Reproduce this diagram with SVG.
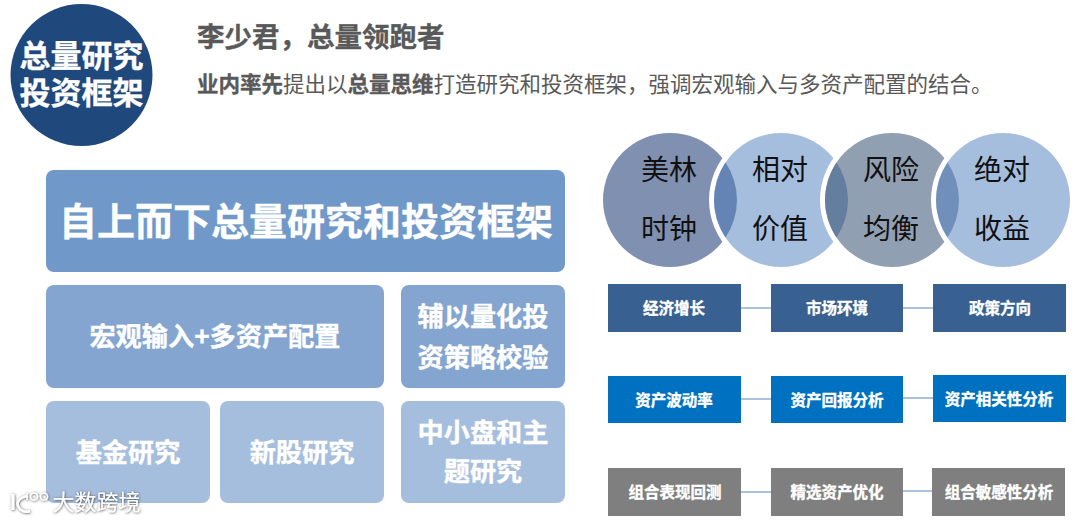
<svg xmlns="http://www.w3.org/2000/svg" width="1080" height="522" viewBox="0 0 1080 522">
<style>
text{font-family:"Noto Sans CJK SC","Noto Sans",sans-serif;text-anchor:middle}
.w{fill:#fff;font-weight:700;stroke:#fff;stroke-width:.35}
.b26{font-size:26.2px}
.s{font-size:15.5px}
.k{font-size:28px;fill:#111}
.h{fill:#595959;text-anchor:start}
.hb{font-weight:700;stroke:#595959;stroke-width:.35}
.c{stroke:#8fafd3;stroke-width:1.5;fill:none}
.navy{fill:#386192}.blue{fill:#0070c0}.gray{fill:#7f7f7f}
.r1{fill:#7098c9}.r2{fill:#84a5cf}.r3{fill:#a6bedd}
.wl{fill:none;stroke:#fff}
</style>
<defs><filter id="sh" x="-10%" y="-20%" width="120%" height="140%"><feDropShadow dx="0.5" dy="0.5" stdDeviation="1" flood-color="#333" flood-opacity="0.9"/></filter></defs>
<rect width="1080" height="522" fill="#fff"/>
<g id="badge"><circle cx="81.500" cy="75" r="71" fill="#1f497d"/><text class="w" font-size="31"><tspan x="81.500" y="67">总量研究</tspan><tspan x="81.500" y="104">投资框架</tspan></text></g>
<g id="heading"><text class="h hb" x="197" y="47" font-size="27.500">李少君&#xFF0C;总量领跑者</text>
<text class="h" x="197" y="92" font-size="21.500"><tspan class="hb">业内率先</tspan>提出以<tspan class="hb">总量思维</tspan>打造研究和投资框架&#xFF0C;强调宏观输入与多资产配置的结合&#x3002;</text></g>
<g id="top"><rect class="r1" x="46" y="170" width="519" height="102" rx="8"/><text class="w" x="306" y="234.500" font-size="38">自上而下总量研究和投资框架</text></g>
<g id="macro"><rect class="r2" x="46" y="285" width="338" height="103" rx="8"/><text class="w b26" x="215" y="346">宏观输入+多资产配置</text></g>
<g id="quant"><rect class="r2" x="401" y="285" width="164" height="103" rx="8"/><text class="w b26" x="483" y="326">辅以量化投</text><text class="w b26" x="483" y="367">资策略校验</text></g>
<g id="fund"><rect class="r3" x="46" y="401" width="164" height="102" rx="8"/><text class="w b26" x="128" y="462">基金研究</text></g>
<g id="ipo"><rect class="r3" x="220" y="401" width="164" height="102" rx="8"/><text class="w b26" x="302" y="462">新股研究</text></g>
<g id="smallcap"><rect class="r3" x="401" y="401" width="164" height="102" rx="8"/><text class="w b26" x="483" y="442">中小盘和主</text><text class="w b26" x="483" y="481">题研究</text></g>
<g id="circle1"><circle cx="670" cy="200" r="67" fill="#8090b0"/><text class="k" x="669" y="180">美林</text><text class="k" x="669" y="239">时钟</text></g>
<g id="circle2"><circle cx="781" cy="200" r="72" fill="#fff"/><circle cx="781" cy="200" r="67" fill="#a6bedd"/><path d="M725.500 162.500A67 67 0 0 1 725.500 237.500A67 67 0 0 1 725.500 162.500Z" fill="#6384b4"/><text class="k" x="780" y="180">相对</text><text class="k" x="780" y="239">价值</text></g>
<g id="circle3"><circle cx="892" cy="200" r="72" fill="#fff"/><circle cx="892" cy="200" r="67" fill="#919fb3"/><path d="M836.500 162.500A67 67 0 0 1 836.500 237.500A67 67 0 0 1 836.500 162.500Z" fill="#637e9e"/><text class="k" x="891" y="180">风险</text><text class="k" x="891" y="239">均衡</text></g>
<g id="circle4"><circle cx="1003" cy="200" r="72" fill="#fff"/><circle cx="1003" cy="200" r="67" fill="#a6bedd"/><path d="M947.500 162.500A67 67 0 0 1 947.500 237.500A67 67 0 0 1 947.500 162.500Z" fill="#7090bb"/><text class="k" x="1002" y="180">绝对</text><text class="k" x="1002" y="239">收益</text></g>
<g id="connectors"><path class="c" d="M741 308H771M903 308H933M741 399H771M903 398H933M741 492H771M903 491H932"/></g>
<g id="n1"><rect class="navy" x="608" y="284" width="133" height="48"/><text class="w s" x="674" y="314">经济增长</text></g>
<g id="n2"><rect class="navy" x="771" y="284" width="132" height="48"/><text class="w s" x="837" y="314">市场环境</text></g>
<g id="n3"><rect class="navy" x="933" y="284" width="133" height="48"/><text class="w s" x="1000" y="314">政策方向</text></g>
<g id="n4"><rect class="blue" x="608" y="376" width="133" height="47"/><text class="w s" x="674" y="406">资产波动率</text></g>
<g id="n5"><rect class="blue" x="771" y="376" width="132" height="47"/><text class="w s" x="837" y="406">资产回报分析</text></g>
<g id="n6"><rect class="blue" x="933" y="375" width="133" height="47"/><text class="w s" x="999" y="405">资产相关性分析</text></g>
<g id="n7"><rect class="gray" x="608" y="468" width="133" height="48"/><text class="w s" x="675" y="498">组合表现回测</text></g>
<g id="n8"><rect class="gray" x="771" y="468" width="132" height="48"/><text class="w s" x="837" y="498">精选资产优化</text></g>
<g id="n9"><rect class="gray" x="932" y="468" width="133" height="48"/><text class="w s" x="999" y="498">组合敏感性分析</text></g>
<g id="watermark" filter="url(#sh)"><path class="wl" d="M13 494V510" stroke-width="3"/><path class="wl" d="M28 496C20 497 16 502 18 506C20 511 25 513 30 511" stroke-width="2.500"/><path class="wl" d="M27 493V500" stroke-width="1.500"/><circle class="wl" cx="34" cy="496.500" r="3.600" stroke-width="1.500"/><circle class="wl" cx="44" cy="496.500" r="3.600" stroke-width="1.500"/><text x="96.500" y="510" font-size="22" fill="#fff">大数跨境</text></g>
</svg>
